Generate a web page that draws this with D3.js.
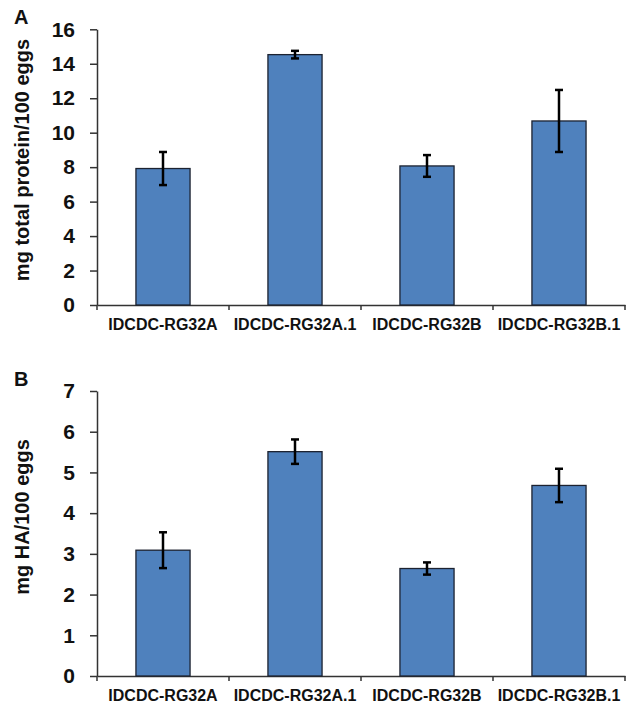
<!DOCTYPE html>
<html>
<head>
<meta charset="utf-8">
<script src="https://cdn.jsdelivr.net/npm/d3@7"></script>
<style>
    body { margin: 0; background: #fff; }
    text { font-family: "Liberation Sans", Arial, sans-serif; font-weight: bold; fill: #111; }
    .axis path, .axis line { stroke: #333; stroke-width: 1.5; }
    .yaxis text { font-size: 21px; }
    .xaxis text { font-size: 16px; }
</style>
</head>
<body>
<div id="chart"></div>
<script>

    // strains on the x axis (same for both panels)
    var strains = ["IDCDC-RG32A", "IDCDC-RG32A.1", "IDCDC-RG32B", "IDCDC-RG32B.1"];

    // panel A: total protein
    var proteinMean = [7.92, 14.53, 8.07, 10.68];
    var proteinErr = [0.96, 0.22, 0.63, 1.8];
    var proteinTicks = [0, 2, 4, 6, 8, 10, 12, 14, 16];

    // panel B: HA
    var haMean = [3.09, 5.51, 2.64, 4.68];
    var haErr = [0.44, 0.3, 0.15, 0.41];
    var haTicks = [0, 1, 2, 3, 4, 5, 6, 7];

    var width = 629;
    var height = 704;

    var svg = d3.select("#chart")
        .append("svg")
        .attr("width", width)
        .attr("height", height);

    function drawPanel(opts) {

        var data = strains.map(function(s, i) {
            return { name: s, value: opts.mean[i], err: opts.err[i] };
        });

        // outer band scale gives the category boundaries (tick marks)
        var xOuter = d3.scaleBand()
            .domain(strains)
            .range([97, 625])
            .padding(0);

        var xScale = d3.scaleBand()
            .domain(strains)
            .range([97, 625])
            .paddingInner(0.59)
            .paddingOuter(0.295);

        var yScale = d3.scaleLinear()
            .domain([0, d3.max(opts.ticks)])
            .range([opts.bottom, opts.top]);

        // y axis
        svg.append("g")
            .attr("class", "axis yaxis")
            .attr("transform", "translate(97,0)")
            .call(d3.axisLeft(yScale)
                .tickValues(opts.ticks)
                .tickFormat(d3.format("d"))
                .tickSize(7)
                .tickSizeOuter(0)
                .tickPadding(15))
            .attr("font-size", null)
            .attr("font-family", null);

        // x axis: labels centred, ticks on the category boundaries
        var xAxis = svg.append("g")
            .attr("class", "axis xaxis")
            .attr("transform", "translate(0," + opts.bottom + ")")
            .call(d3.axisBottom(xOuter).tickSize(0).tickSizeOuter(0).tickPadding(14))
            .attr("font-size", null)
            .attr("font-family", null);

        xAxis.selectAll("text")
            .attr("dy", "0.71em");

        var bounds = strains.map(function(s) { return xOuter(s); });
        bounds.push(xOuter.range()[1]);

        xAxis.selectAll(".bound")
            .data(bounds)
            .enter()
            .append("line")
            .attr("class", "bound")
            .attr("x1", function(d) { return d; })
            .attr("x2", function(d) { return d; })
            .attr("y1", 0)
            .attr("y2", 5);

        // bars
        svg.selectAll(".bar-" + opts.id)
            .data(data)
            .enter()
            .append("rect")
            .attr("class", "bar-" + opts.id)
            .attr("x", function(d) { return xScale(d.name); })
            .attr("y", function(d) { return yScale(d.value); })
            .attr("width", xScale.bandwidth())
            .attr("height", function(d) { return yScale(0) - yScale(d.value); })
            .attr("fill", "#4F81BD")
            .attr("stroke", "#1c2230")
            .attr("stroke-width", 1.3);

        // error bars
        var eb = svg.selectAll(".err-" + opts.id)
            .data(data)
            .enter()
            .append("g")
            .attr("class", "err-" + opts.id)
            .attr("transform", function(d) { return "translate(" + (xScale(d.name) + xScale.bandwidth() / 2) + ",0)"; })
            .attr("stroke", "#000")
            .attr("stroke-width", 2.5);

        eb.append("line")
            .attr("y1", function(d) { return yScale(d.value + d.err); })
            .attr("y2", function(d) { return yScale(d.value - d.err); });

        eb.append("line")
            .attr("x1", -4).attr("x2", 4)
            .attr("y1", function(d) { return yScale(d.value + d.err); })
            .attr("y2", function(d) { return yScale(d.value + d.err); });

        eb.append("line")
            .attr("x1", -4).attr("x2", 4)
            .attr("y1", function(d) { return yScale(d.value - d.err); })
            .attr("y2", function(d) { return yScale(d.value - d.err); });

        // y axis label
        svg.append("text")
            .attr("transform", "translate(29," + opts.labelY + ") rotate(-90)")
            .attr("text-anchor", "middle")
            .style("font-size", "20px")
            .text(opts.label);

        // panel letter
        svg.append("text")
            .attr("x", 14)
            .attr("y", opts.letterY)
            .style("font-size", "20px")
            .text(opts.id);
    }

    drawPanel({
        id: "A",
        mean: proteinMean,
        err: proteinErr,
        ticks: proteinTicks,
        top: 29.3,
        bottom: 305,
        label: "mg total protein/100 eggs",
        labelY: 160,
        letterY: 24
    });

    drawPanel({
        id: "B",
        mean: haMean,
        err: haErr,
        ticks: haTicks,
        top: 391,
        bottom: 676,
        label: "mg HA/100 eggs",
        labelY: 517,
        letterY: 386
    });

</script>
</body>
</html>
